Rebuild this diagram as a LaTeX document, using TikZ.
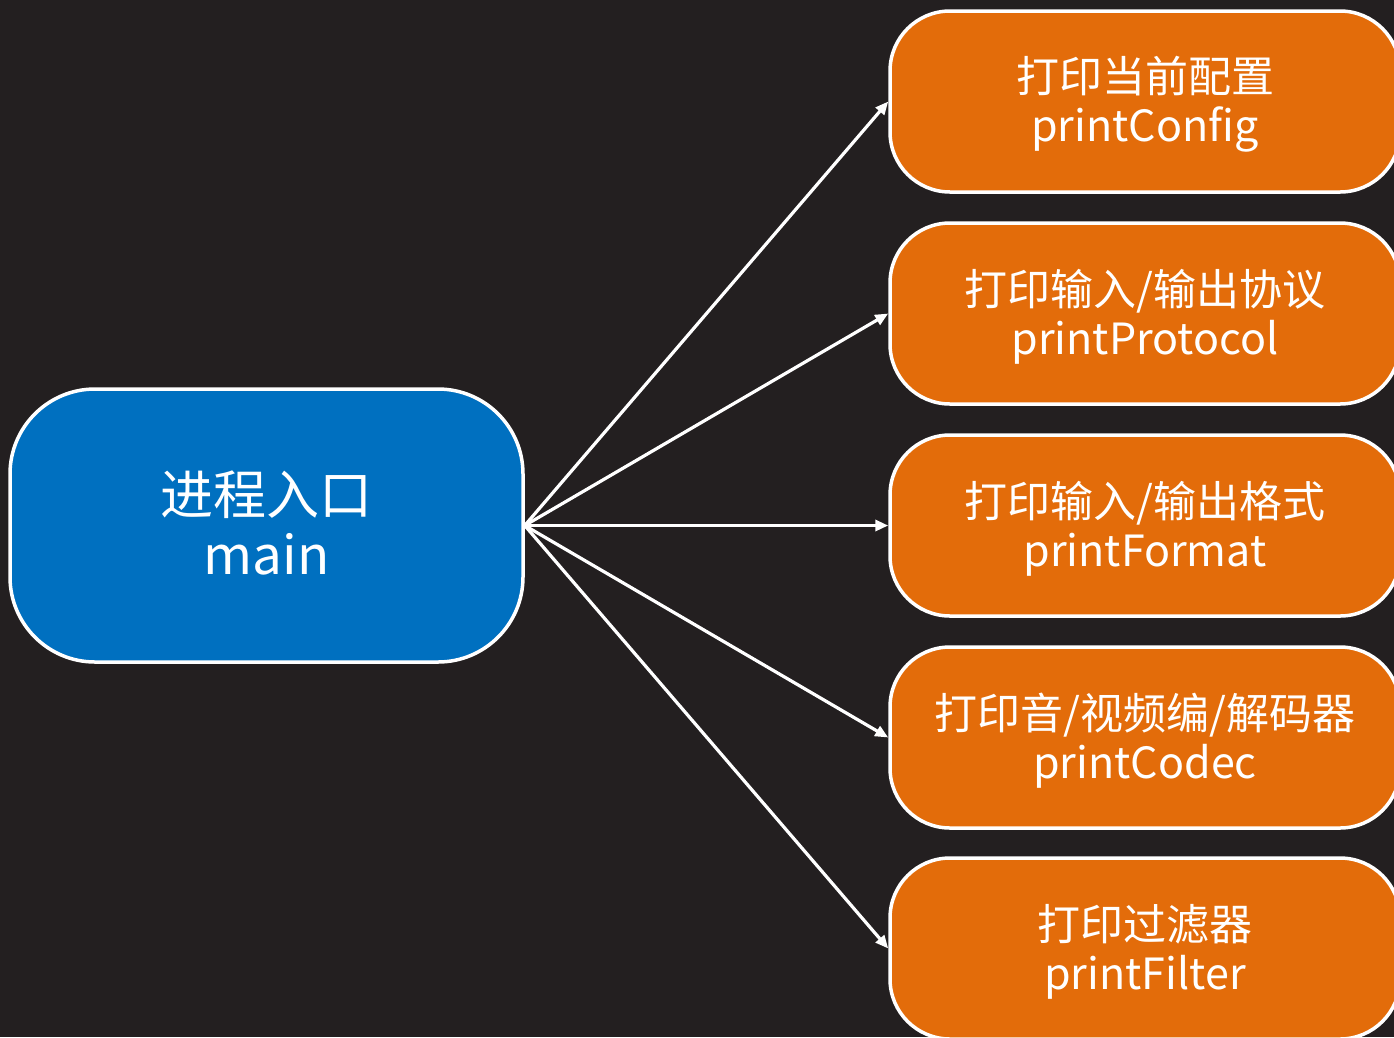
\documentclass[tikz,border=0pt]{standalone}
\usepackage{fontspec}
\setmainfont{Noto Sans CJK SC}
\usetikzlibrary{arrows.meta}
\definecolor{bgdark}{HTML}{231F20}
\definecolor{mainblue}{HTML}{0070C0}
\definecolor{funcorange}{HTML}{E36C0A}
\begin{document}
\begin{tikzpicture}[x=1pt,y=-1pt,
  mainbox/.style={draw=white, line width=3.5pt, fill=mainblue, rounded corners=85pt,
    minimum width=513pt, minimum height=273pt, inner sep=0pt},
  maintext/.style={align=center, text=white, inner sep=0pt, yshift=3pt,
    font=\fontsize{53}{60}\selectfont},
  funcbox/.style={draw=white, line width=3.5pt, fill=funcorange, rounded corners=60pt,
    minimum width=510pt, minimum height=181pt, inner sep=0pt},
  functext/.style={align=center, text=white, inner sep=0pt, yshift=-3pt,
    font=\fontsize{43}{49}\selectfont},
  conn/.style={draw=white, line width=3.2pt, -{Triangle[length=13pt,width=11pt]}}]
\useasboundingbox (0,0) rectangle (1394,1037);
\clip (0,0) rectangle (1394,1037);
\fill[bgdark] (0,0) rectangle (1394,1037);
\node[mainbox, label={[maintext]center:{进程入口\\main}}] (main) at (266.5,525.5) {};
\node[funcbox, label={[functext]center:{打印当前配置\\printConfig}}] (f1) at (1145,101.5) {};
\node[funcbox, label={[functext]center:{打印输入/输出协议\\printProtocol}}] (f2) at (1145,313.5) {};
\node[funcbox, label={[functext]center:{打印输入/输出格式\\printFormat}}] (f3) at (1145,525.5) {};
\node[funcbox, label={[functext]center:{打印音/视频编/解码器\\printCodec}}] (f4) at (1145,737.5) {};
\node[funcbox, label={[functext]center:{打印过滤器\\printFilter}}] (f5) at (1145,948.5) {};
\foreach \t in {f1,f2,f3,f4,f5}
  \draw[conn] (main.east) -- (\t.west);
\end{tikzpicture}
\end{document}
